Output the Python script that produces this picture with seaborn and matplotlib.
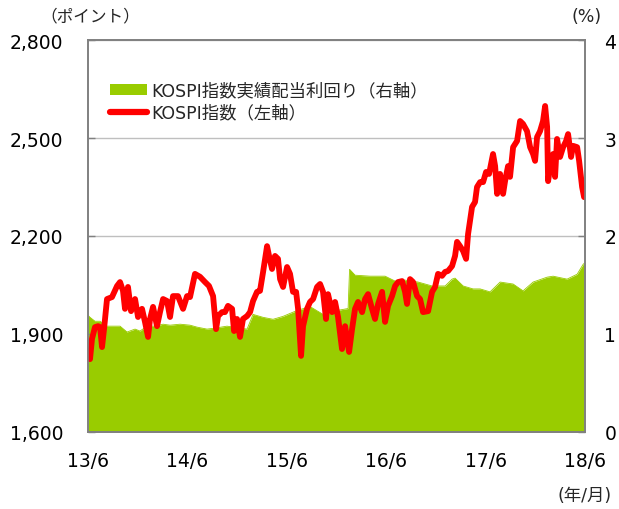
import numpy as np
import pandas as pd
import matplotlib
matplotlib.use("Agg")
import matplotlib.pyplot as plt
import seaborn as sns
from matplotlib.patches import Patch
from matplotlib.lines import Line2D

# ---------------- data ----------------
# time is given as years elapsed since June 2013
kospi_t = [0.000, 0.020, 0.040, 0.070, 0.101, 0.121, 0.141, 0.161, 0.191, 0.241,
           0.292, 0.322, 0.352, 0.372, 0.402, 0.433, 0.473, 0.503, 0.543, 0.573,
           0.604, 0.624, 0.654, 0.694, 0.724, 0.755, 0.795, 0.825, 0.855, 0.905,
           0.956, 0.996, 1.026, 1.076, 1.127, 1.177, 1.217, 1.258, 1.288, 1.308,
           1.348, 1.378, 1.408, 1.449, 1.469, 1.499, 1.529, 1.559, 1.600, 1.630,
           1.660, 1.700, 1.730, 1.761, 1.781, 1.801, 1.821, 1.851, 1.881, 1.911,
           1.932, 1.962, 2.002, 2.032, 2.062, 2.093, 2.113, 2.143, 2.163, 2.203,
           2.233, 2.264, 2.304, 2.334, 2.364, 2.394, 2.414, 2.455, 2.485, 2.515,
           2.555, 2.586, 2.626, 2.656, 2.686, 2.716, 2.757, 2.787, 2.817, 2.857,
           2.887, 2.918, 2.958, 2.988, 3.018, 3.058, 3.089, 3.119, 3.159, 3.189,
           3.209, 3.239, 3.270, 3.310, 3.340, 3.370, 3.421, 3.461, 3.491, 3.521,
           3.561, 3.592, 3.622, 3.662, 3.692, 3.712, 3.742, 3.773, 3.803, 3.823,
           3.863, 3.893, 3.913, 3.944, 3.974, 4.004, 4.034, 4.074, 4.095, 4.115,
           4.145, 4.175, 4.195, 4.225, 4.245, 4.276, 4.316, 4.346, 4.376, 4.416,
           4.447, 4.477, 4.497, 4.517, 4.547, 4.577, 4.598, 4.618, 4.628, 4.658,
           4.678, 4.698, 4.718, 4.748, 4.779, 4.809, 4.829, 4.859, 4.879, 4.920,
           4.940, 4.970, 4.990]
kospi_val = [1848, 1823, 1885, 1921, 1924, 1921, 1860, 1915, 2007, 2013,
             2047, 2059, 2032, 1977, 2044, 1970, 2007, 1952, 1977, 1937,
             1891, 1946, 1983, 1924, 1967, 2007, 2001, 1952, 2016, 2016,
             1977, 2016, 2013, 2084, 2075, 2059, 2047, 2016, 1915, 1955,
             1967, 1967, 1986, 1977, 1909, 1946, 1891, 1946, 1955, 1967,
             2001, 2029, 2032, 2090, 2130, 2169, 2139, 2099, 2139, 2130,
             2068, 2044, 2105, 2084, 2029, 2029, 1977, 1833, 1924, 1977,
             1998, 2007, 2044, 2053, 2029, 1946, 2022, 1967, 1998, 1952,
             1854, 1924, 1845, 1915, 1977, 1998, 1967, 2007, 2022, 1977,
             1946, 1992, 2029, 1937, 1986, 2016, 2047, 2059, 2062, 2029,
             1992, 2068, 2059, 2016, 2007, 1967, 1970, 2029, 2044, 2084,
             2078, 2090, 2093, 2108, 2139, 2182, 2169, 2154, 2130, 2206,
             2289, 2304, 2350, 2365, 2365, 2396, 2390, 2451, 2414, 2329,
             2390, 2329, 2368, 2414, 2381, 2472, 2491, 2552, 2543, 2521,
             2472, 2451, 2430, 2503, 2521, 2552, 2598, 2534, 2368, 2430,
             2451, 2381, 2497, 2442, 2472, 2491, 2512, 2442, 2476, 2472,
             2430, 2350, 2319]

yield_t = [0.000, 0.020, 0.070, 0.121, 0.191, 0.272, 0.322, 0.392, 0.473, 0.523,
           0.594, 0.674, 0.755, 0.825, 0.926, 1.026, 1.097, 1.197, 1.278, 1.398,
           1.529, 1.600, 1.660, 1.761, 1.861, 1.962, 2.103, 2.233, 2.364, 2.505,
           2.616, 2.631, 2.686, 2.837, 2.988, 3.089, 3.189, 3.320, 3.461, 3.592,
           3.662, 3.692, 3.773, 3.873, 3.944, 4.044, 4.145, 4.276, 4.376, 4.477,
           4.618, 4.678, 4.819, 4.920, 4.980, 5.000]
yield_val = [1.19, 1.17, 1.13, 1.13, 1.08, 1.08, 1.08, 1.02, 1.05, 1.03,
             1.08, 1.08, 1.10, 1.09, 1.10, 1.09, 1.07, 1.05, 1.06, 1.08,
             1.06, 1.05, 1.20, 1.17, 1.15, 1.18, 1.24, 1.28, 1.20, 1.24,
             1.26, 1.66, 1.60, 1.59, 1.59, 1.54, 1.55, 1.53, 1.49, 1.49,
             1.56, 1.57, 1.49, 1.46, 1.46, 1.43, 1.53, 1.51, 1.44, 1.53,
             1.58, 1.59, 1.56, 1.61, 1.71, 1.73]

tick_years = [2013, 2014, 2015, 2016, 2017, 2018]
x_tick_labels = ["13/6", "14/6", "15/6", "16/6", "17/6", "18/6"]
left_ticks = [1600, 1900, 2200, 2500, 2800]
left_tick_labels = ["1,600", "1,900", "2,200", "2,500", "2,800"]
right_ticks = [0, 1, 2, 3, 4]

label_yield = "KOSPI指数実績配当利回り（右軸）"
label_kospi = "KOSPI指数（左軸）"

# ---------------- style ----------------
sns.set_theme(style="white")
plt.rcParams['font.family'] = ['DejaVu Sans', 'Noto Sans CJK JP']

RED = "#FF0000"
GREEN = "#99CC00"
GREY = "#808080"

start = pd.Timestamp("2013-06-01")
def to_dates(t):
    return start + pd.to_timedelta(np.asarray(t) * 365.25, unit="D")

kdf = pd.DataFrame({"date": to_dates(kospi_t), "kospi": kospi_val})
ydf = pd.DataFrame({"date": to_dates(yield_t), "yield": yield_val})

fig = plt.figure(figsize=(6.19, 5.10), dpi=100)
ax = fig.add_axes([0.1422, 0.1510, 0.8029, 0.7686])
ax2 = ax.twinx()
ax.set_zorder(ax2.get_zorder() + 1)
ax.patch.set_visible(False)

# yield area (right axis)
ax2.fill_between(ydf["date"], 0, ydf["yield"], color=GREEN, linewidth=0, zorder=1)
sns.lineplot(data=ydf, x="date", y="yield", ax=ax2, color=GREEN, linewidth=0.6,
             estimator=None, sort=False, legend=False)
ax2.set_ylim(0, 4)
ax2.set_yticks(right_ticks)
ax2.set_axisbelow(True)
ax2.yaxis.grid(True, color="#BFBFBF", linewidth=1.0)
ax2.set_ylabel("")

# KOSPI line (left axis)
sns.lineplot(data=kdf, x="date", y="kospi", ax=ax, color=RED, linewidth=4.2,
             estimator=None, sort=False, legend=False, solid_joinstyle="round",
             solid_capstyle="round")
ax.set_ylim(1600, 2800)
ax.set_yticks(left_ticks)
ax.set_yticklabels(left_tick_labels)
ax.set_ylabel("")
ax.set_xlabel("")

xt = [pd.Timestamp(f"{y}-06-01") for y in tick_years]
ax.set_xlim(xt[0], xt[-1])
ax.set_xticks(xt)
ax.set_xticklabels(x_tick_labels)

for a in (ax, ax2):
    for s in a.spines.values():
        s.set_color(GREY)
        s.set_linewidth(1.2)
ax.tick_params(axis="y", direction="in", length=5, width=1, color=GREY,
               pad=18, labelsize=13.5, labelcolor="#000000")
ax.tick_params(axis="x", direction="in", length=6, width=1, color=GREY,
               pad=14, labelsize=13.5, labelcolor="#000000")
ax2.tick_params(axis="y", direction="in", length=5, width=1, color=GREY,
                pad=14, labelsize=13.5, labelcolor="#000000")

handles = [Patch(facecolor=GREEN, edgecolor="none"),
           Line2D([], [], color=RED, linewidth=4.5, solid_capstyle="round")]
ax.legend(handles, [label_yield, label_kospi], loc="upper left",
          bbox_to_anchor=(0.045, 0.895), frameon=False, fontsize=12.5,
          handlelength=2.1, handleheight=0.6, handletextpad=0.25,
          labelspacing=0.25, borderpad=0, borderaxespad=0)

fig.text(0.146, 0.968, "（ポイント）", ha="center", va="center", fontsize=12)
fig.text(0.947, 0.966, "(%)", ha="center", va="center", fontsize=12.5)
fig.text(0.945, 0.028, "(年/月)", ha="center", va="center", fontsize=12.5)

fig.savefig("out.png", dpi=100)
